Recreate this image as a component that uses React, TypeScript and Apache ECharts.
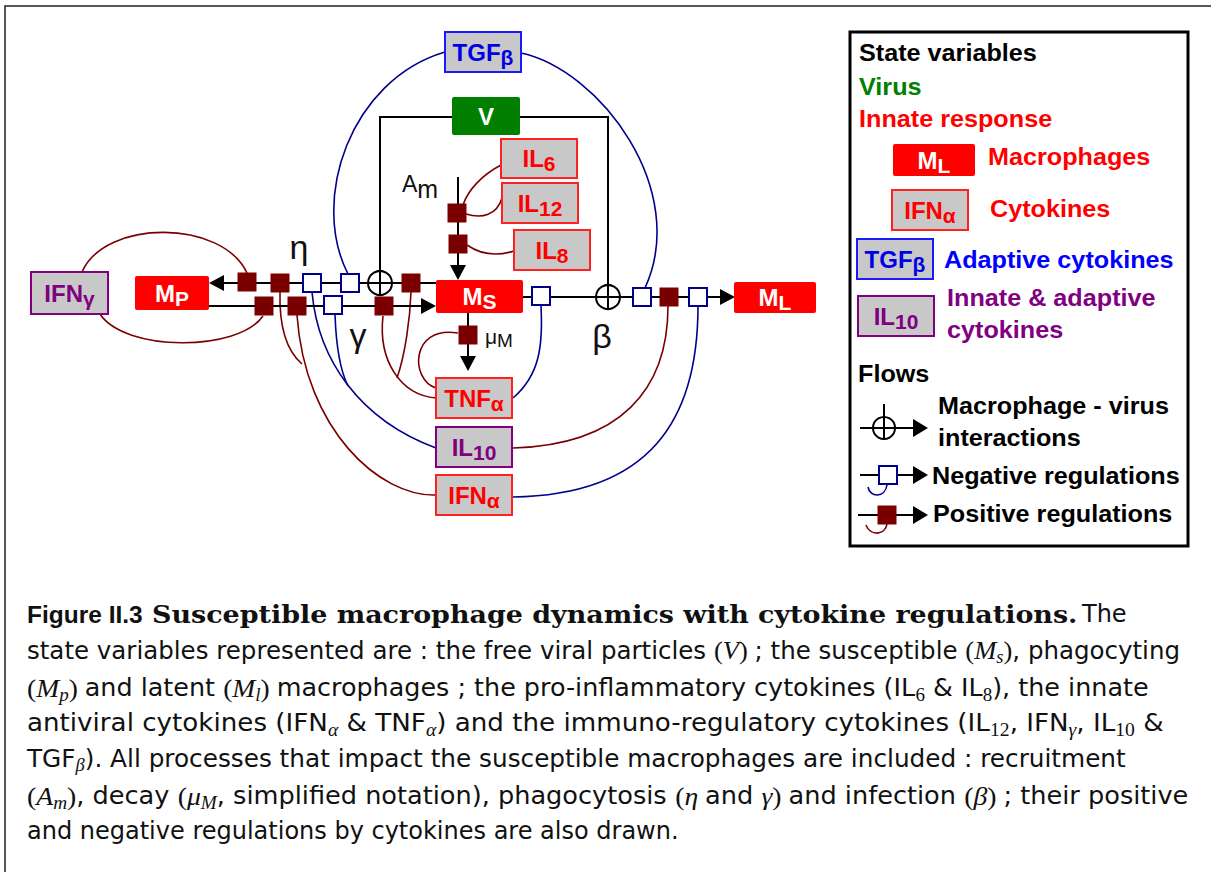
import React, { useEffect, useRef } from "react";
import * as echarts from "echarts";

// ---------------- content ----------------
const nodeMain = ["TGF", "V", "IL", "IL", "IL", "M", "IFN", "M", "M", "TNF", "IL", "IFN"];
const nodeSub = ["β", "", "6", "12", "8", "P", "γ", "S", "L", "α", "10", "α"];
const nodeKind = ["adaptive", "virus", "innate", "innate", "innate", "macro", "both", "macro", "macro", "innate", "both", "innate"];

const rateLabels = ["η", "γ", "β"];
const legendHeads = ["State variables", "Virus", "Innate response", "Flows"];
const legendSampleMain = ["M", "IFN", "TGF", "IL"];
const legendSampleSub = ["L", "α", "β", "10"];
const legendSampleKind = ["macro", "innate", "adaptive", "both"];
const legendKindTexts = ["Macrophages", "Cytokines", "Adaptive cytokines", "Innate & adaptive", "cytokines"];
const legendFlowTexts = ["Macrophage - virus", "interactions", "Negative regulations", "Positive regulations"];

const captionTitle = ["Figure II.3", "Susceptible macrophage dynamics with cytokine regulations.", "The"];
const captionLines: [string, string][][] = [
  [["n", "state variables represented are : the free viral particles "], ["mr", "("], ["mi", "V"], ["mr", ") "], ["n", "; the susceptible "], ["mr", "("], ["mi", "M"], ["ms", "s"], ["mr", ")"], ["n", ", phagocyting"]],
  [["mr", "("], ["mi", "M"], ["ms", "p"], ["mr", ") "], ["n", "and latent "], ["mr", "("], ["mi", "M"], ["ms", "l"], ["mr", ") "], ["n", "macrophages ; the pro-inflammatory cytokines (IL"], ["ns", "6"], ["n", " & IL"], ["ns", "8"], ["n", "), the innate"]],
  [["n", "antiviral cytokines (IFN"], ["ms", "α"], ["n", " & TNF"], ["ms", "α"], ["n", ") and the immuno-regulatory cytokines (IL"], ["ns", "12"], ["n", ", IFN"], ["ms", "γ"], ["n", ", IL"], ["ns", "10"], ["n", " &"]],
  [["n", "TGF"], ["ms", "β"], ["n", "). All processes that impact the susceptible macrophages are included : recruitment"]],
  [["mr", "("], ["mi", "A"], ["ms", "m"], ["mr", ")"], ["n", ", decay "], ["mr", "("], ["mi", "μ"], ["ms", "M"], ["n", ", simplified notation), phagocytosis "], ["mr", "("], ["mi", "η "], ["n", "and "], ["mi", "γ"], ["mr", ") "], ["n", "and infection "], ["mr", "("], ["mi", "β"], ["mr", ") "], ["n", "; their positive"]],
  [["n", "and negative regulations by cytokines are also drawn."]],
];

// ---------------- layout ----------------
const nodeBox = [
  [445, 32, 76, 40], // TGFβ
  [452, 97, 68, 38], // V
  [501, 139, 76, 39], // IL6
  [502, 183, 76, 40], // IL12
  [514, 230, 76, 40], // IL8
  [135, 276, 74, 34], // MP
  [31, 272, 77, 42], // IFNγ
  [436, 280, 87, 33], // MS
  [734, 282, 82, 31], // ML
  [436, 378, 76, 40], // TNFα
  [436, 427, 76, 40], // IL10
  [436, 475, 76, 40], // IFNα
];
const ratePos = [[299, 247], [358, 335], [602, 336]];
const posSquares = [[247, 282], [280, 283], [411, 283], [264, 306], [297, 306], [384, 306], [457, 213], [458, 244], [468, 335], [669, 297]];
const negSquares = [[312, 283], [350, 283], [333, 305], [541, 296], [642, 297], [698, 297]];
const posCurves = [
  [82, 272, 105, 219, 222, 219, 247, 273],
  [100, 314, 125, 352, 238, 352, 263, 316],
  [436, 495, 380, 497, 305, 430, 297, 315],
  [280, 292, 279, 330, 288, 352, 302, 364],
  [513, 448, 620, 445, 668, 390, 668, 306],
  [436, 398, 400, 395, 378, 360, 383, 316],
  [397, 378, 405, 355, 410, 320, 411, 292],
  [436, 388, 410, 380, 410, 325, 458, 333],
  [501, 165, 482, 175, 468, 190, 463, 205],
  [502, 198, 497, 215, 482, 219, 466, 214],
  [514, 251, 495, 257, 480, 254, 467, 245],
];
const negCurves = [
  [445, 52, 350, 80, 310, 200, 348, 274],
  [521, 53, 600, 70, 690, 190, 645, 288],
  [513, 398, 540, 375, 543, 345, 541, 306],
  [436, 448, 360, 420, 318, 360, 312, 292],
  [335, 314, 336, 345, 340, 370, 348, 386],
  [513, 497, 650, 495, 698, 420, 698, 306],
];
const capY = [651, 688, 723, 759, 796, 831];
const capScale = [1.021, 1.06, 1.09, 1.031, 1.067, 1.0];

const SANS = "'Liberation Sans', Arial, sans-serif";
const CAP = "'DejaVu Sans', sans-serif";
const SERIF = "'DejaVu Serif', serif";
const MATH = "'Liberation Serif', 'DejaVu Serif', serif";
const GRAY = "#c8c8c8";
const DRED = "#7a0000";
const NAVY = "#00008b";
const INK = "#111111";

const KIND: Record<string, { fill: string; stroke: string | null; text: string }> = {
  adaptive: { fill: GRAY, stroke: "#1a1aff", text: "#0000e6" },
  virus: { fill: "#007f00", stroke: null, text: "#ffffff" },
  innate: { fill: GRAY, stroke: "#ff2020", text: "#ff0000" },
  macro: { fill: "#ff0000", stroke: null, text: "#ffffff" },
  both: { fill: GRAY, stroke: "#800080", text: "#800080" },
};

function line(x1: number, y1: number, x2: number, y2: number, stroke = "#000", lw = 2) {
  return { type: "line", shape: { x1, y1, x2, y2 }, style: { stroke, lineWidth: lw } };
}
function arrow(tx: number, ty: number, dir: string, len = 15, half = 8) {
  let pts: number[][];
  if (dir === "left") pts = [[tx, ty], [tx + len, ty - half], [tx + len, ty + half]];
  else if (dir === "right") pts = [[tx, ty], [tx - len, ty - half], [tx - len, ty + half]];
  else pts = [[tx, ty], [tx - half, ty - len], [tx + half, ty - len]];
  return { type: "polygon", shape: { points: pts }, style: { fill: "#000" } };
}
function curve(c: number[], stroke: string, lw = 1.6) {
  return {
    type: "bezierCurve",
    shape: { x1: c[0], y1: c[1], cpx1: c[2], cpy1: c[3], cpx2: c[4], cpy2: c[5], x2: c[6], y2: c[7] },
    style: { stroke, lineWidth: lw, fill: "none" },
  };
}
function box(b: number[], kind: string) {
  const k = KIND[kind];
  return {
    type: "rect",
    shape: { x: b[0], y: b[1], width: b[2], height: b[3], r: k.stroke ? 0 : 2 },
    style: { fill: k.fill, stroke: k.stroke || "none", lineWidth: k.stroke ? 2 : 0 },
  };
}
function boxLabel(cx: number, cy: number, main: string, sub: string, color: string) {
  return {
    type: "text", x: cx, y: cy,
    style: {
      text: sub ? `{m|${main}}{s|${sub}}` : `{m|${main}}`,
      align: "center", verticalAlign: "middle", textAlign: "center", textVerticalAlign: "middle",
      rich: {
        m: { fontSize: 24, fontWeight: "bold", fontFamily: SANS, fill: color, lineHeight: 30 },
        s: { fontSize: 21, fontWeight: "bold", fontFamily: SANS, fill: color, lineHeight: 30, padding: [10, 0, 0, 0] },
      },
    },
  };
}
function txt(x: number, y: number, text: string, fill: string, size = 24, weight = "bold", align = "left", sx = 1, family = SANS) {
  return {
    type: "text", x, y, scaleX: sx,
    style: {
      text, fill, fontSize: size, fontWeight: weight, fontFamily: family,
      align, verticalAlign: "middle", textAlign: align, textVerticalAlign: "middle",
    },
  };
}
function sqPos(c: number[], size = 19) {
  return { type: "rect", shape: { x: c[0] - size / 2, y: c[1] - size / 2, width: size, height: size }, style: { fill: DRED } };
}
function sqNeg(c: number[], size = 18) {
  return { type: "rect", shape: { x: c[0] - size / 2, y: c[1] - size / 2, width: size, height: size }, style: { fill: "#fff", stroke: NAVY, lineWidth: 2 } };
}
function circlePlus(cx: number, cy: number, r = 12) {
  return [
    { type: "circle", shape: { cx, cy, r }, style: { fill: "none", stroke: "#000", lineWidth: 2 } },
    line(cx - r, cy, cx + r, cy),
    line(cx, cy - r, cx, cy + r),
  ];
}

function buildElements() {
  const els: any[] = [];
  // outer frame
  els.push({ type: "rect", shape: { x: 5, y: 6, width: 1240, height: 900 }, style: { fill: "none", stroke: "#222", lineWidth: 1.5 } });

  // regulation curves
  posCurves.forEach((c) => els.push(curve(c, DRED)));
  negCurves.forEach((c) => els.push(curve(c, NAVY)));

  // flows
  els.push(line(222, 283, 436, 283));
  els.push(arrow(209, 283, "left"));
  els.push(line(209, 306, 423, 306));
  els.push(arrow(436, 306, "right"));
  els.push(line(523, 297, 722, 297));
  els.push(arrow(735, 297, "right"));
  els.push({ type: "polyline", shape: { points: [[380, 295], [380, 117], [608, 117], [608, 309]] }, style: { stroke: "#000", lineWidth: 2, fill: "none" } });
  els.push(line(458, 177, 458, 267));
  els.push(arrow(458, 280, "down", 15, 8));
  els.push(line(468, 313, 468, 358));
  els.push(arrow(468, 371, "down", 15, 8));
  els.push(...circlePlus(380, 283));
  els.push(...circlePlus(608, 297));

  posSquares.forEach((c) => els.push(sqPos(c)));
  negSquares.forEach((c) => els.push(sqNeg(c)));

  // nodes
  nodeBox.forEach((b, i) => {
    const k = KIND[nodeKind[i]];
    els.push(box(b, nodeKind[i]));
    els.push(boxLabel(b[0] + b[2] / 2, b[1] + b[3] / 2, nodeMain[i], nodeSub[i], k.text));
  });

  // rate labels
  rateLabels.forEach((l, i) => els.push(txt(ratePos[i][0], ratePos[i][1], l, INK, 34, "normal", "center")));
  els.push({
    type: "text", x: 402, y: 184,
    style: {
      text: "{a|A}{b|m}", align: "left", verticalAlign: "middle", textAlign: "left", textVerticalAlign: "middle",
      rich: {
        a: { fontSize: 23, fontFamily: SANS, fill: INK, lineHeight: 30 },
        b: { fontSize: 25, fontFamily: SANS, fill: INK, lineHeight: 30, padding: [10, 0, 0, 0] },
      },
    },
  });
  els.push({
    type: "text", x: 485, y: 336,
    style: {
      text: "{a|μ}{b|M}", align: "left", verticalAlign: "middle", textAlign: "left", textVerticalAlign: "middle",
      rich: {
        a: { fontSize: 21, fontFamily: SANS, fill: INK, lineHeight: 24 },
        b: { fontSize: 19, fontFamily: SANS, fill: INK, lineHeight: 24, padding: [8, 0, 0, 0] },
      },
    },
  });

  // legend
  els.push({ type: "rect", shape: { x: 850, y: 32, width: 338, height: 514 }, style: { fill: "none", stroke: "#000", lineWidth: 3 } });
  const LS = 1.05;
  els.push(txt(859, 53, legendHeads[0], "#000", 24, "bold", "left", LS));
  els.push(txt(859, 87, legendHeads[1], "#008000", 24, "bold", "left", LS));
  els.push(txt(859, 119, legendHeads[2], "#ff0000", 24, "bold", "left", LS));
  els.push(txt(858, 374, legendHeads[3], "#000", 24, "bold", "left", LS));
  const sampleBoxes = [[893, 144, 82, 32], [892, 190, 76, 40], [857, 239, 76, 40], [858, 296, 76, 40]];
  sampleBoxes.forEach((b, i) => {
    const kind = legendSampleKind[i];
    els.push(box(b, kind));
    els.push(boxLabel(b[0] + b[2] / 2, b[1] + b[3] / 2, legendSampleMain[i], legendSampleSub[i], KIND[kind].text));
  });
  els.push(txt(988, 157, legendKindTexts[0], "#ff0000", 24, "bold", "left", LS));
  els.push(txt(990, 209, legendKindTexts[1], "#ff0000", 24, "bold", "left", LS));
  els.push(txt(944, 260, legendKindTexts[2], "#0000ff", 24, "bold", "left", LS));
  els.push(txt(947, 298, legendKindTexts[3], "#800080", 24, "bold", "left", LS));
  els.push(txt(947, 330, legendKindTexts[4], "#800080", 24, "bold", "left", LS));
  els.push(txt(938, 406, legendFlowTexts[0], "#000", 24, "bold", "left", LS));
  els.push(txt(938, 438, legendFlowTexts[1], "#000", 24, "bold", "left", LS));
  els.push(txt(932, 476, legendFlowTexts[2], "#000", 24, "bold", "left", LS));
  els.push(txt(933, 514, legendFlowTexts[3], "#000", 24, "bold", "left", LS));
  // legend flow symbols
  els.push(line(884, 404, 884, 428));
  els.push(line(860, 428, 914, 428));
  els.push(...circlePlus(884, 428, 11));
  els.push(arrow(928, 428, "right", 15, 9));
  els.push(curve([868, 487, 870, 498, 885, 498, 887, 485], NAVY));
  els.push(line(860, 475, 914, 475));
  els.push(sqNeg([888, 475]));
  els.push(arrow(928, 475, "right", 15, 9));
  els.push(curve([866, 525, 870, 536, 885, 536, 887, 524], DRED));
  els.push(line(858, 515, 914, 515));
  els.push(sqPos([887, 515]));
  els.push(arrow(928, 515, "right", 15, 9));

  // caption title line
  els.push(txt(27, 614, captionTitle[0], INK, 24.5, "bold", "left", 1, SANS));
  els.push(txt(152, 614, captionTitle[1], INK, 25, "bold", "left", 1.077, SERIF));
  els.push(txt(1082, 614, captionTitle[2], INK, 24, "normal", "left", 1, CAP));

  // caption body
  const rich = {
    n: { fontSize: 24, fontFamily: CAP, fill: INK, lineHeight: 36 },
    mr: { fontSize: 26, fontFamily: MATH, fill: INK, lineHeight: 36 },
    mi: { fontSize: 26, fontFamily: MATH, fontStyle: "italic", fill: INK, lineHeight: 36 },
    ms: { fontSize: 18, fontFamily: MATH, fontStyle: "italic", fill: INK, lineHeight: 36, padding: [13, 0, 0, 0] },
    ns: { fontSize: 18, fontFamily: MATH, fill: INK, lineHeight: 36, padding: [13, 0, 0, 0] },
  };
  captionLines.forEach((tokens, i) => {
    els.push({
      type: "text", x: 27, y: capY[i], scaleX: capScale[i],
      style: {
        text: tokens.map(([s, t]) => `{${s}|${t}}`).join(""),
        align: "left", verticalAlign: "middle", textAlign: "left", textVerticalAlign: "middle",
        rich,
      },
    });
  });
  return els;
}

export default function App() {
  const ref = useRef<HTMLDivElement>(null);
  useEffect(() => {
    document.body.style.margin = "0";
    const chart = echarts.init(ref.current as HTMLDivElement, null, { renderer: "svg" });
    chart.setOption({
      animation: false,
      backgroundColor: "#ffffff",
      graphic: { elements: buildElements() },
    });
    return () => chart.dispose();
  }, []);
  return <div ref={ref} style={{ position: "absolute", left: 0, top: 0, width: 1211, height: 872 }} />;
}
